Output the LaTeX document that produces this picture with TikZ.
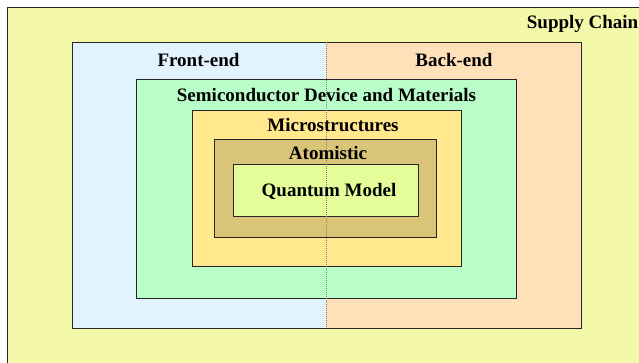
\documentclass[tikz,border=0pt]{standalone}
\usepackage{fontspec}
\setmainfont{Liberation Serif}
\definecolor{supplyc}{HTML}{F3F9A9}
\definecolor{frontc}{HTML}{E1F3FC}
\definecolor{backc}{HTML}{FFE1B9}
\definecolor{semic}{HTML}{B9FDC9}
\definecolor{microc}{HTML}{FFE88D}
\definecolor{atomc}{HTML}{DAC478}
\definecolor{quantc}{HTML}{E4FD9A}
\begin{document}
\begin{tikzpicture}[x=1pt,y=-1pt,
  box/.style={draw=black!85, line width=0.9pt, anchor=north west, inner sep=0pt, outer sep=0pt},
  half/.style={anchor=north west, inner sep=0pt, outer sep=0pt},
  lbl/.style={font=\fontsize{19}{22}\selectfont\bfseries, inner sep=0pt, text=black},
  split/.style={draw=black!50, line width=0.8pt, dash pattern=on 1.2pt off 0.8pt}]
\useasboundingbox (0,0) rectangle (639,362);
\clip (0,0) rectangle (639,362);
\fill[white] (0,0) rectangle (639,362);
% supply chain area, running off the right and bottom edges
\node[box, fill=supplyc, minimum width=650pt, minimum height=370pt] (supply) at (7,7) {};
% front-end / back-end halves and their common frame
\node[half, fill=frontc, minimum width=254pt, minimum height=286pt] (front) at (72,42) {};
\node[half, fill=backc, minimum width=255pt, minimum height=286pt] (back) at (326,42) {};
\node[box, minimum width=509pt, minimum height=286pt] (fb) at (72,42) {};
% nested levels
\node[box, fill=semic, minimum width=380pt, minimum height=219pt] (semi) at (136,79) {};
\node[box, fill=microc, minimum width=269pt, minimum height=156pt] (micro) at (192.5,110) {};
\node[box, fill=atomc, minimum width=222pt, minimum height=98pt] (atom) at (214.5,139) {};
\node[box, fill=quantc, minimum width=185pt, minimum height=52pt] (quant) at (233.5,164.5) {};
% front/back divider
\coordinate (divtop) at (326,42);
\coordinate (divbot) at (326,328);
\draw[split] (divtop) -- (divbot);
% labels
\node[lbl, anchor=base east] (tsupply) at (638.5,28.5) {Supply Chain};
\node[lbl, anchor=base] (tfront) at (198.5,66) {Front-end};
\node[lbl, anchor=base] (tback) at (454,66) {Back-end};
\node[lbl, anchor=base] (tsemi) at (326.5,101) {Semiconductor Device and Materials};
\node[lbl, anchor=base] (tmicro) at (333,131) {Microstructures};
\node[lbl, anchor=base] (tatom) at (328,159) {Atomistic};
\node[lbl, anchor=base] (tquant) at (329,196) {Quantum Model};
\end{tikzpicture}
\end{document}
